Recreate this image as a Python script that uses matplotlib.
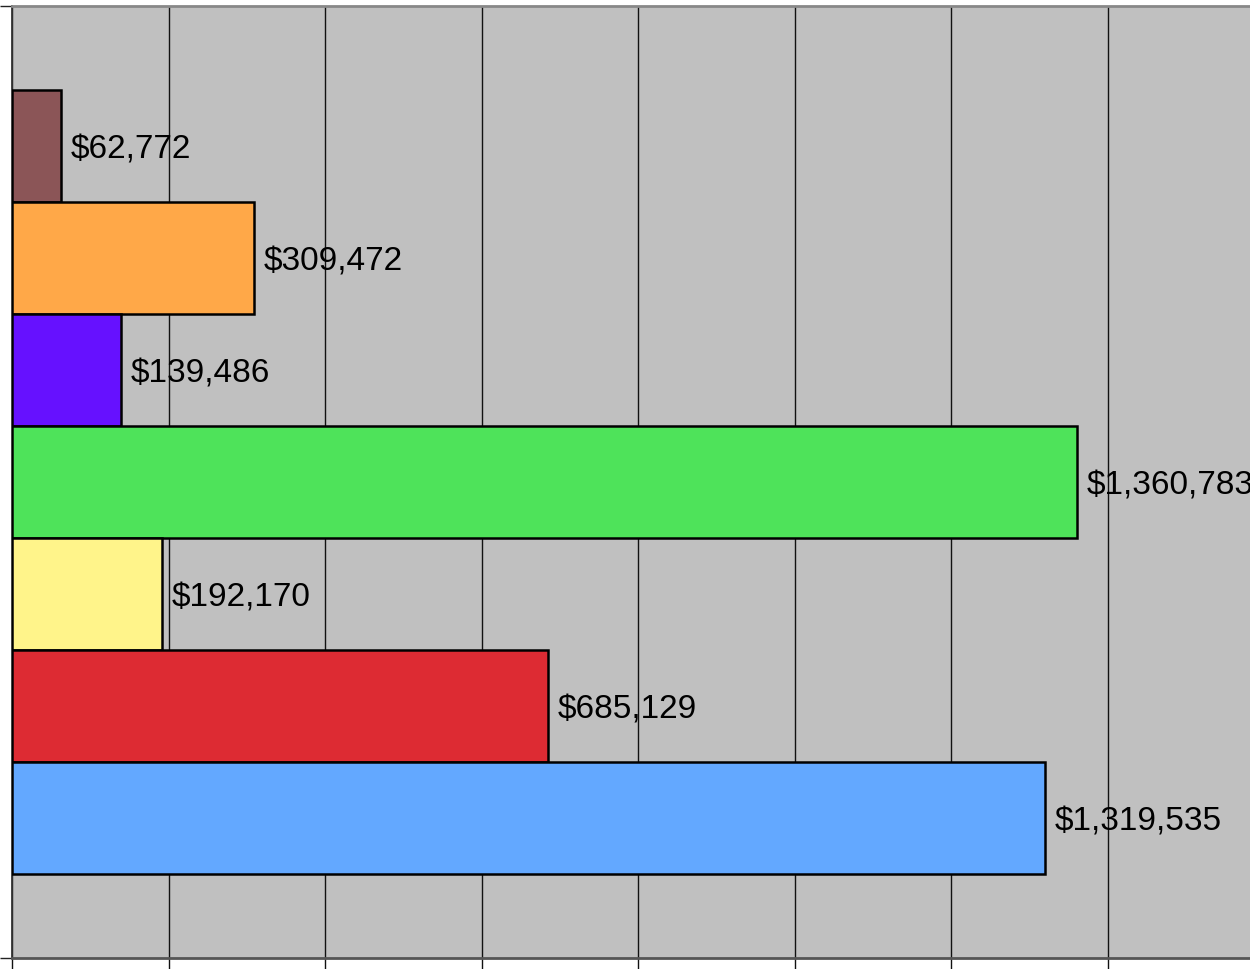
import matplotlib.pyplot as plt

# values listed top to bottom as they appear in the chart
values = [62772, 309472, 139486, 1360783, 192170, 685129, 1319535]
colors = ["#8B5557", "#FFA848", "#6611FF", "#4EE35A", "#FFF48A", "#DD2B33", "#63A8FF"]
x_max = 1600000
x_step = 200000

plt.rcParams["font.family"] = ["Liberation Sans", "DejaVu Sans"]

fig = plt.figure(figsize=(12.5, 9.69), dpi=100)
ax = fig.add_axes([12 / 1250, 11 / 969, 1252 / 1250, 952 / 969])
ax.set_facecolor("#C0C0C0")

n = len(values)
gap = 0.75
ypos = [n + gap - 0.5 - i for i in range(n)]
ax.barh(ypos, values, height=1.0, color=colors, edgecolor="black",
        linewidth=1.8, zorder=3)

# the rightmost label runs past the figure edge, as in the original
for y, v in zip(ypos, values):
    ax.annotate(f"${v:,}", (v, y), xytext=(7, -3), textcoords="offset points",
                va="center", ha="left", fontsize=24, color="black",
                zorder=4, annotation_clip=False)

ax.set_xlim(0, x_max)
ax.set_ylim(0, n + 2 * gap)
ax.set_xticks(range(0, x_max + 1, x_step))
ax.set_yticks([0, n + 2 * gap])
ax.set_xticklabels([])
ax.set_yticklabels([])
ax.grid(True, axis="x", color="#111111", linewidth=1.0, zorder=1)
ax.set_axisbelow(True)
ax.tick_params(axis="x", direction="out", length=8, width=1.0, color="#111111")
ax.tick_params(axis="y", direction="out", length=9, width=1.0, color="#222222")

ax.spines["top"].set_color("#888888")
ax.spines["top"].set_linewidth(2)
ax.spines["bottom"].set_color("#555555")
ax.spines["bottom"].set_linewidth(2)
ax.spines["left"].set_color("#333333")
ax.spines["left"].set_linewidth(1.3)
ax.spines["right"].set_visible(False)

fig.savefig("out.png", dpi=100)
